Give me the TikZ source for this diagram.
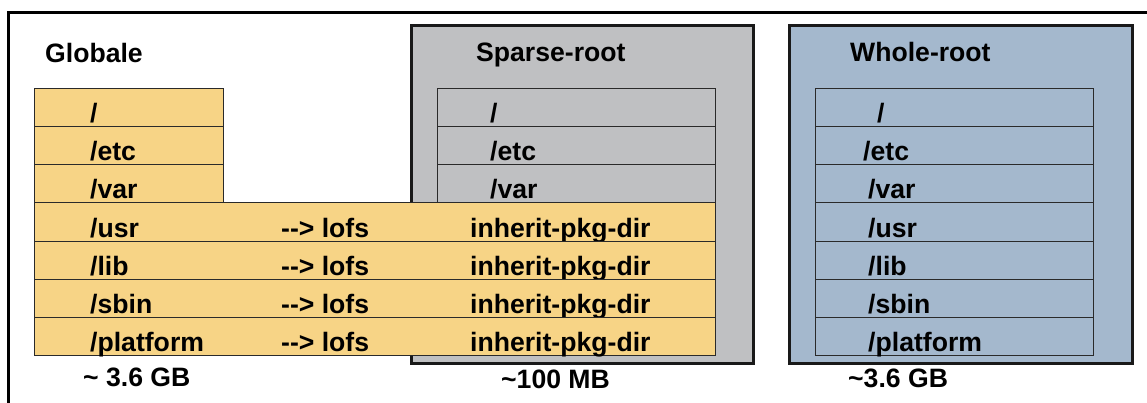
\documentclass[tikz,border=0pt]{standalone}
\usepackage{fontspec}
\setmainfont{Liberation Sans}
\definecolor{zoneyellow}{HTML}{F7D486}
\definecolor{sparsegray}{HTML}{BFC0C2}
\definecolor{wholeblue}{HTML}{A4B8CD}
\definecolor{rowline}{HTML}{2A2A2A}
\begin{document}
\begin{tikzpicture}[x=1pt,y=-1pt,
  lbl/.style={font=\fontsize{26.6}{30}\selectfont\bfseries, inner sep=0pt, anchor=base west},
  rowbox/.style={draw=rowline, line width=1pt, inner sep=0pt, outer sep=0pt, anchor=north west, minimum height=38pt},
  zonebox/.style={draw=black!90, line width=3pt, inner sep=0pt, outer sep=0pt, anchor=north west}]
\clip (0,0) rectangle (1147,403);
\fill[white] (0,0) rectangle (1147,403);

% outer frame of the global zone (runs past the right and bottom edges)
\draw[line width=3pt] (8.5,13) rectangle (1170,430);

% the two non-global zones
\node[zonebox, fill=sparsegray, minimum width=342pt, minimum height=337pt] (sparse) at (411,26) {};
\node[zonebox, fill=wholeblue, minimum width=343pt, minimum height=337pt] (whole) at (789,26) {};

% titles
\node[lbl] (tglob) at (45,63) {Globale};
\node[lbl] (tsparse) at (476,62) {Sparse-root};
\node[lbl] (twhole) at (850,62) {Whole-root};

% private directories of the global zone
\foreach \i/\t in {0/{/},1/{/etc},2/{/var}} {
  \node[rowbox, fill=zoneyellow, minimum width=189pt] (g\i) at (34,89+38*\i) {};
  \node[lbl] (gt\i) at (90,123+38*\i) {\t};
}
% private directories of the sparse-root zone
\foreach \i/\t in {0/{/},1/{/etc},2/{/var}} {
  \node[rowbox, fill=sparsegray, minimum width=278pt] (s\i) at (437,89+38*\i) {};
  \node[lbl] (st\i) at (490,123+38*\i) {\t};
}
% shared directories, loopback-mounted into the sparse-root zone
\foreach \i/\t in {3/{/usr},4/{/lib},5/{/sbin},6/{/platform}} {
  \node[rowbox, fill=zoneyellow, minimum width=681pt] (b\i) at (34,89+38*\i) {};
  \node[lbl] (bt\i) at (90,123+38*\i) {\t};
  \node[lbl] (bl\i) at (281,123+38*\i) {-{}-> lofs};
  \node[lbl] (bi\i) at (470,123+38*\i) {inherit-pkg-dir};
}
% full copy in the whole-root zone
\foreach \i/\t/\xo in {0/{/}/877,1/{/etc}/863,2/{/var}/868,3/{/usr}/868,4/{/lib}/868,5/{/sbin}/868,6/{/platform}/868} {
  \node[rowbox, fill=wholeblue, minimum width=278pt] (w\i) at (815,89+38*\i) {};
  \node[lbl] (wt\i) at (\xo,123+38*\i) {\t};
}

% disk footprint
\node[lbl] (szg) at (83,386) {\textasciitilde{} 3.6 GB};
\node[lbl] (szs) at (501,388) {\textasciitilde{}100 MB};
\node[lbl] (szw) at (848,387) {\textasciitilde{}3.6 GB};
\end{tikzpicture}
\end{document}
